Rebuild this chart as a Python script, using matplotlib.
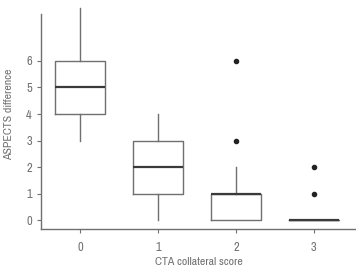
import matplotlib
matplotlib.use("Agg")
import matplotlib.pyplot as plt

plt.rcParams['font.family'] = ['Archivo Narrow', 'DejaVu Sans']

scores = ["0", "1", "2", "3"]
medians = [5, 2, 1, 0]
q1 = [4, 1, 0, 0]
q3 = [6, 3, 1, 0]
whis_lo = [3, 0, 0, 0]
whis_hi = [8, 4, 2, 0]
outliers = [[], [], [3, 6], [1, 2]]

stats = []
for i in range(len(scores)):
    stats.append({"med": medians[i], "q1": q1[i], "q3": q3[i],
                  "whislo": whis_lo[i], "whishi": whis_hi[i],
                  "fliers": outliers[i], "label": scores[i]})

grey = "#707070"
txt = "#707070"
fig = plt.figure(figsize=(3.56, 2.67), dpi=100)
ax = fig.add_axes([0.115, 0.142, 0.885, 0.858])

ax.bxp(stats, positions=range(len(scores)), widths=0.64, showcaps=False,
       boxprops=dict(color=grey, linewidth=1.0),
       whiskerprops=dict(color=grey, linewidth=1.0),
       medianprops=dict(color="#3a3a3a", linewidth=1.6),
       flierprops=dict(marker="o", markersize=3, markerfacecolor="#222222",
                       markeredgecolor="#222222"))

ax.set_xlim(-0.5, 3.54)
ax.set_ylim(-0.34, 8.3)
ax.set_yticks(range(0, 7))
ax.set_xticks(range(len(scores)))
ax.set_xticklabels(scores)

for s in ["top", "right"]:
    ax.spines[s].set_visible(False)
ax.spines["left"].set_bounds(-0.34, 7.77)
for s in ["left", "bottom"]:
    ax.spines[s].set_color(grey)
    ax.spines[s].set_linewidth(1.0)
ax.tick_params(colors=grey, labelcolor=txt, labelsize=9, length=3)
ax.tick_params(axis="x", pad=6)

ax.set_ylabel("ASPECTS difference", color=txt, fontsize=8.5, labelpad=9)
ax.set_xlabel("CTA collateral score", color=txt, fontsize=8.5, labelpad=3)

fig.savefig("out.png", dpi=100)
